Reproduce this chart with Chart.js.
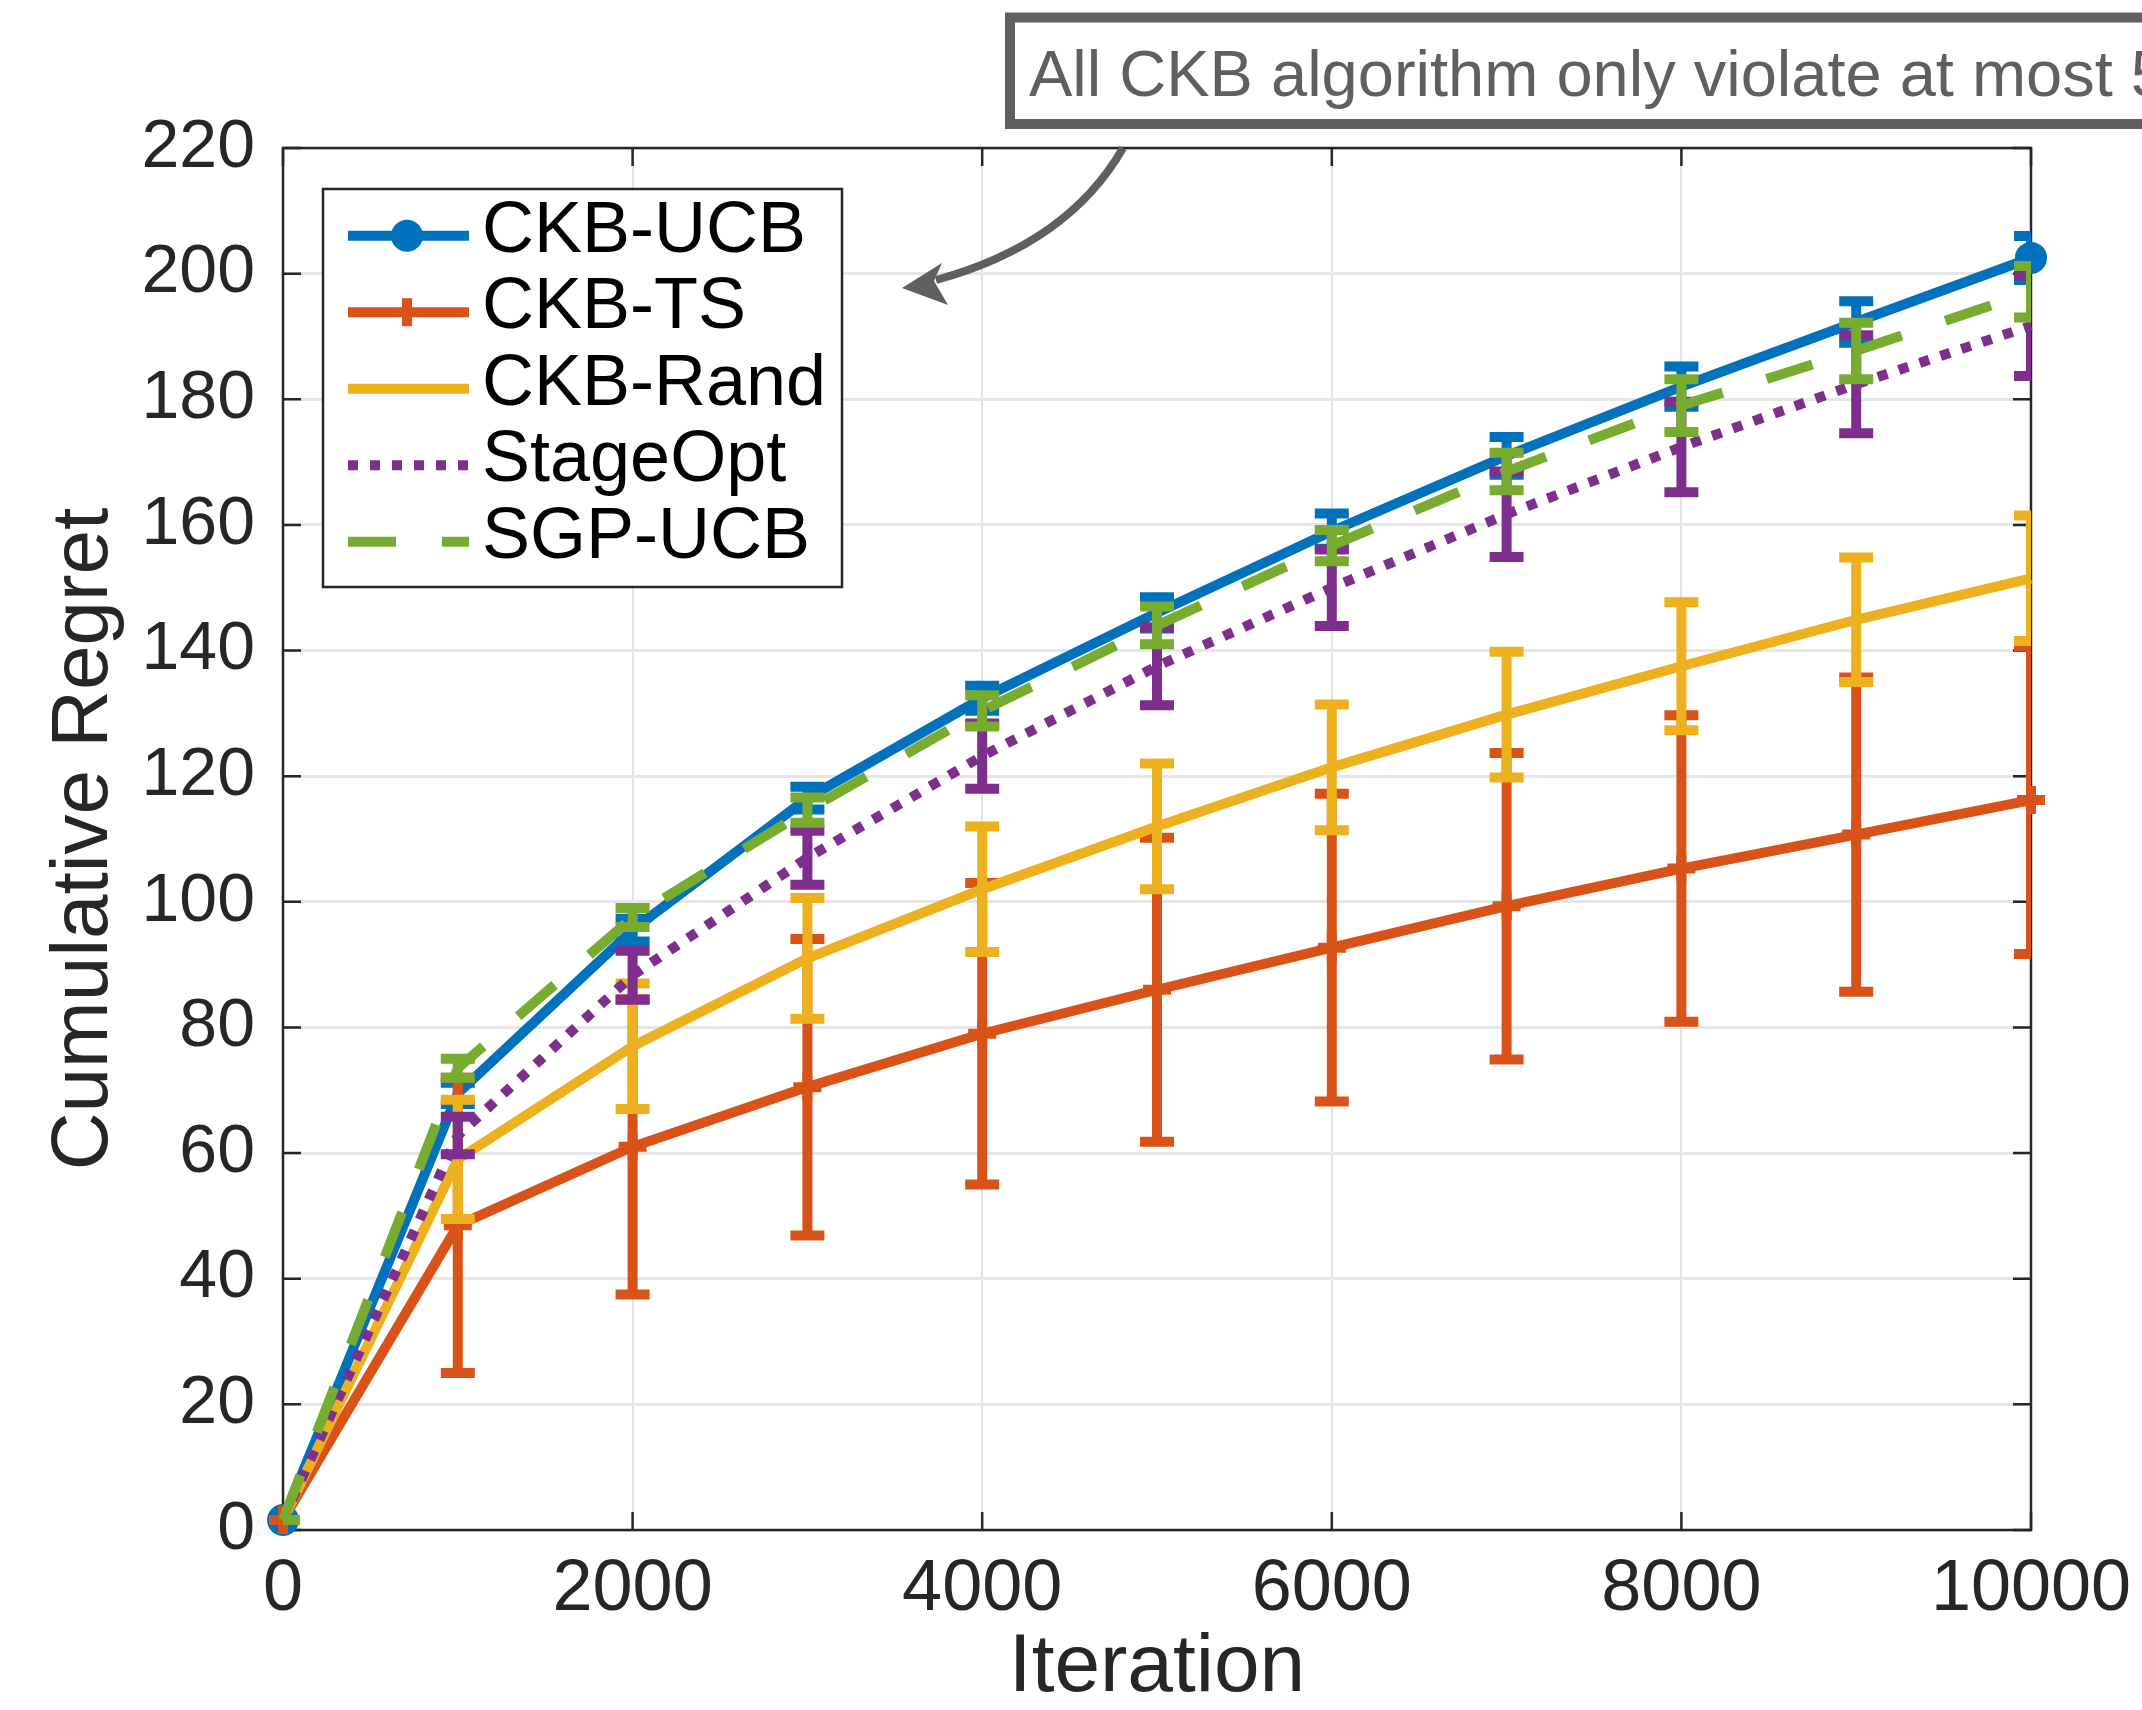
<!DOCTYPE html>
<html>
<head>
<meta charset="utf-8">
<title>Cumulative Regret</title>
<script src="https://cdn.jsdelivr.net/npm/chart.js@4.4.0/dist/chart.umd.min.js"></script>
<style>
  html, body { margin: 0; padding: 0; background: #fff; }
  #chart { display: block; }
</style>
</head>
<body>
<canvas id="chart" width="2142" height="1710"></canvas>
<script>
// datos
var iterations = [0, 1000, 2000, 3000, 4000, 5000, 6000, 7000, 8000, 9000, 10000];
var xTicks = [0, 2000, 4000, 6000, 8000, 10000];
var yTicks = [0, 20, 40, 60, 80, 100, 120, 140, 160, 180, 200, 220];

var seriesNames = ['CKB-UCB', 'CKB-TS', 'CKB-Rand', 'StageOpt', 'SGP-UCB'];

var ucbMean = [1.6, 69.5, 95.5, 116.5, 132.4, 146, 159, 171, 182, 192.3, 202.5];
var ucbErr  = [0, 1.7, 1.8, 1.8, 2, 2.5, 2.8, 3, 3.2, 3.3, 3.5];

var tsMean = [1.6, 48.5, 61, 70.5, 79, 86, 92.7, 99.3, 105.3, 110.7, 116.2];
var tsErr  = [0, 23.5, 23.5, 23.6, 24, 24.2, 24.5, 24.4, 24.4, 25, 24.5];

var randMean = [1.6, 59, 77, 91, 102, 112, 121.4, 129.8, 137.5, 144.9, 151.5];
var randErr  = [0, 9.5, 10, 9.6, 10, 10, 10, 10, 10.2, 9.9, 10];

var stageMean = [1.6, 62.8, 88.3, 107, 123.2, 137.5, 150, 161.7, 172.4, 182.4, 191.7];
var stageErr  = [0, 3, 3.9, 4.3, 5.2, 6.2, 6.1, 6.8, 7.2, 7.8, 8];

var sgpMean = [1.6, 73.5, 97.5, 114.6, 130.4, 144, 156.7, 168.5, 179, 187.7, 197.1];
var sgpErr  = [0, 1.5, 1.5, 2, 2.5, 3, 2.5, 3, 4.2, 4.5, 4.1];

var noteText = 'All CKB algorithm only violate at most 5';

var FONT = "'Liberation Sans', Arial, Helvetica, sans-serif";
var LW = 10;

function puntos(means) {
  return iterations.map(function(x, i) { return { x: x, y: means[i] }; });
}

// circulos solo en el primer y ultimo punto
var ucbRadius = iterations.map(function(x, i) {
  return (i === 0 || i === iterations.length - 1) ? 13 : 0;
});

// barras de error dibujadas con las escalas del grafico
var errorBars = {
  id: 'errorBars',
  afterDatasetDraw: function(chart, args) {
    var ds = chart.data.datasets[args.index];
    if (!ds.errors) return;
    var ctx = chart.ctx, area = chart.chartArea;
    var xs = chart.scales.x, ys = chart.scales.y;
    ctx.save();
    ctx.beginPath();
    ctx.rect(area.left, area.top, area.right - area.left, area.bottom - area.top);
    ctx.clip();
    ctx.strokeStyle = ds.borderColor;
    ctx.lineWidth = LW;
    ctx.lineCap = 'butt';
    ctx.setLineDash([]);
    ds.data.forEach(function(p, i) {
      var e = ds.errors[i];
      var px = xs.getPixelForValue(p.x);
      var top = ys.getPixelForValue(p.y + e);
      var bot = ys.getPixelForValue(p.y - e);
      ctx.beginPath();
      ctx.moveTo(px, top); ctx.lineTo(px, bot);
      ctx.moveTo(px - 17, top); ctx.lineTo(px + 17, top);
      ctx.moveTo(px - 17, bot); ctx.lineTo(px + 17, bot);
      ctx.stroke();
    });
    ctx.restore();
  }
};

// caja de ejes con marcas hacia adentro (estilo matlab)
var axesBox = {
  id: 'axesBox',
  beforeDatasetsDraw: function(chart) {
    var ctx = chart.ctx, a = chart.chartArea;
    var xs = chart.scales.x, ys = chart.scales.y;
    var tl = 18;
    ctx.save();
    ctx.strokeStyle = '#262626';
    ctx.lineWidth = 2.5;
    ctx.beginPath();
    xTicks.forEach(function(v) {
      var px = xs.getPixelForValue(v);
      ctx.moveTo(px, a.bottom); ctx.lineTo(px, a.bottom - tl);
      ctx.moveTo(px, a.top); ctx.lineTo(px, a.top + tl);
    });
    yTicks.forEach(function(v) {
      var py = ys.getPixelForValue(v);
      ctx.moveTo(a.left, py); ctx.lineTo(a.left + tl, py);
      ctx.moveTo(a.right, py); ctx.lineTo(a.right - tl, py);
    });
    ctx.stroke();
    ctx.strokeRect(a.left, a.top, a.right - a.left, a.bottom - a.top);
    ctx.restore();
  }
};

// leyenda dentro del area y la nota con flecha
var extras = {
  id: 'extras',
  afterDraw: function(chart) {
    var ctx = chart.ctx;
    ctx.save();

    // leyenda
    ctx.fillStyle = '#fff';
    ctx.fillRect(323, 189, 519, 398);
    ctx.strokeStyle = '#262626';
    ctx.lineWidth = 2.5;
    ctx.strokeRect(323, 189, 519, 398);

    chart.data.datasets.forEach(function(ds, i) {
      var y = 235.7 + i * 76.5;
      ctx.save();
      ctx.strokeStyle = ds.borderColor;
      ctx.lineWidth = LW;
      ctx.lineCap = 'butt';
      ctx.setLineDash(ds.borderDash || []);
      ctx.beginPath();
      ctx.moveTo(348, y); ctx.lineTo(469, y);
      ctx.stroke();
      ctx.setLineDash([]);
      if (ds.pointStyle === 'circle') {
        ctx.fillStyle = ds.borderColor;
        ctx.beginPath();
        ctx.arc(407, y, 16, 0, Math.PI * 2);
        ctx.fill();
      } else if (ds.pointStyle === 'cross') {
        ctx.beginPath();
        ctx.moveTo(407, y - 14); ctx.lineTo(407, y + 14);
        ctx.stroke();
      }
      ctx.restore();
      ctx.fillStyle = '#000';
      ctx.font = '72px ' + FONT;
      ctx.textAlign = 'left';
      ctx.textBaseline = 'alphabetic';
      ctx.fillText(seriesNames[i], 482, y + 16);
    });

    // nota
    ctx.strokeStyle = '#5f5f5f';
    ctx.lineWidth = 10;
    ctx.strokeRect(1010, 17.5, 1400, 106.5);
    ctx.fillStyle = '#5f5f5f';
    ctx.font = '65px ' + FONT;
    ctx.textAlign = 'left';
    ctx.textBaseline = 'alphabetic';
    ctx.fillText(noteText, 1029, 96);

    // flecha curva
    ctx.lineWidth = 8;
    ctx.beginPath();
    ctx.moveTo(1123, 148);
    ctx.quadraticCurveTo(1068, 244, 936, 280);
    ctx.stroke();
    ctx.beginPath();
    ctx.moveTo(902, 288);
    ctx.lineTo(942, 263);
    ctx.lineTo(934, 281);
    ctx.lineTo(948, 305);
    ctx.closePath();
    ctx.fill();

    ctx.restore();
  }
};

var ctx = document.getElementById('chart').getContext('2d');

new Chart(ctx, {
  type: 'line',
  data: {
    datasets: [{
      label: seriesNames[0],
      data: puntos(ucbMean),
      errors: ucbErr,
      borderColor: '#0072BD',
      backgroundColor: '#0072BD',
      borderWidth: LW,
      pointStyle: 'circle',
      pointRadius: ucbRadius,
      pointBorderWidth: 6,
      pointBackgroundColor: '#0072BD',
      order: 5
    }, {
      label: seriesNames[1],
      data: puntos(tsMean),
      errors: tsErr,
      borderColor: '#D95319',
      backgroundColor: '#D95319',
      borderWidth: LW,
      pointStyle: 'cross',
      pointRadius: 14,
      pointBorderWidth: LW,
      order: 4
    }, {
      label: seriesNames[2],
      data: puntos(randMean),
      errors: randErr,
      borderColor: '#EDB120',
      backgroundColor: '#EDB120',
      borderWidth: LW,
      pointRadius: 0,
      order: 3
    }, {
      label: seriesNames[3],
      data: puntos(stageMean),
      errors: stageErr,
      borderColor: '#7E2F8E',
      backgroundColor: '#7E2F8E',
      borderWidth: LW,
      borderDash: [10, 12],
      borderCapStyle: 'butt',
      pointRadius: 0,
      order: 2
    }, {
      label: seriesNames[4],
      data: puntos(sgpMean),
      errors: sgpErr,
      borderColor: '#77AC30',
      backgroundColor: '#77AC30',
      borderWidth: LW,
      borderDash: [48, 46],
      borderCapStyle: 'butt',
      pointRadius: 0,
      order: 1
    }]
  },
  options: {
    responsive: false,
    animation: false,
    devicePixelRatio: 1,
    events: [],
    clip: false,
    elements: { line: { tension: 0, fill: false } },
    layout: { padding: { left: 0, top: 148, right: 111, bottom: 0 } },
    plugins: {
      legend: { display: false },
      tooltip: { enabled: false }
    },
    scales: {
      x: {
        type: 'linear',
        min: 0,
        max: 10000,
        afterBuildTicks: function(s) { s.ticks = xTicks.map(function(v) { return { value: v }; }); },
        afterFit: function(s) { s.height = 180; s.paddingLeft = 0; s.paddingRight = 0; },
        grid: { color: '#e3e3e3', lineWidth: 2, drawTicks: false },
        border: { display: false },
        ticks: {
          padding: 17,
          maxRotation: 0,
          autoSkip: false,
          color: '#262626',
          font: { family: FONT, size: 72 },
          callback: function(v) { return String(v); }
        },
        title: {
          display: true,
          text: 'Iteration',
          color: '#262626',
          font: { family: FONT, size: 82, lineHeight: 1 },
          padding: { top: 0, bottom: 1 }
        }
      },
      y: {
        type: 'linear',
        min: 0,
        max: 220,
        afterBuildTicks: function(s) { s.ticks = yTicks.map(function(v) { return { value: v }; }); },
        afterFit: function(s) { s.width = 283; s.paddingTop = 0; s.paddingBottom = 0; },
        grid: { color: '#e6e6e6', lineWidth: 3, drawTicks: false },
        border: { display: false },
        ticks: {
          padding: 28,
          autoSkip: false,
          color: '#262626',
          font: { family: FONT, size: 68 }
        },
        title: {
          display: true,
          text: 'Cumulative Regret',
          color: '#262626',
          font: { family: FONT, size: 80, lineHeight: 1.2 },
          padding: { top: 37, bottom: 0 }
        }
      }
    }
  },
  plugins: [axesBox, errorBars, extras]
});
</script>
</body>
</html>
